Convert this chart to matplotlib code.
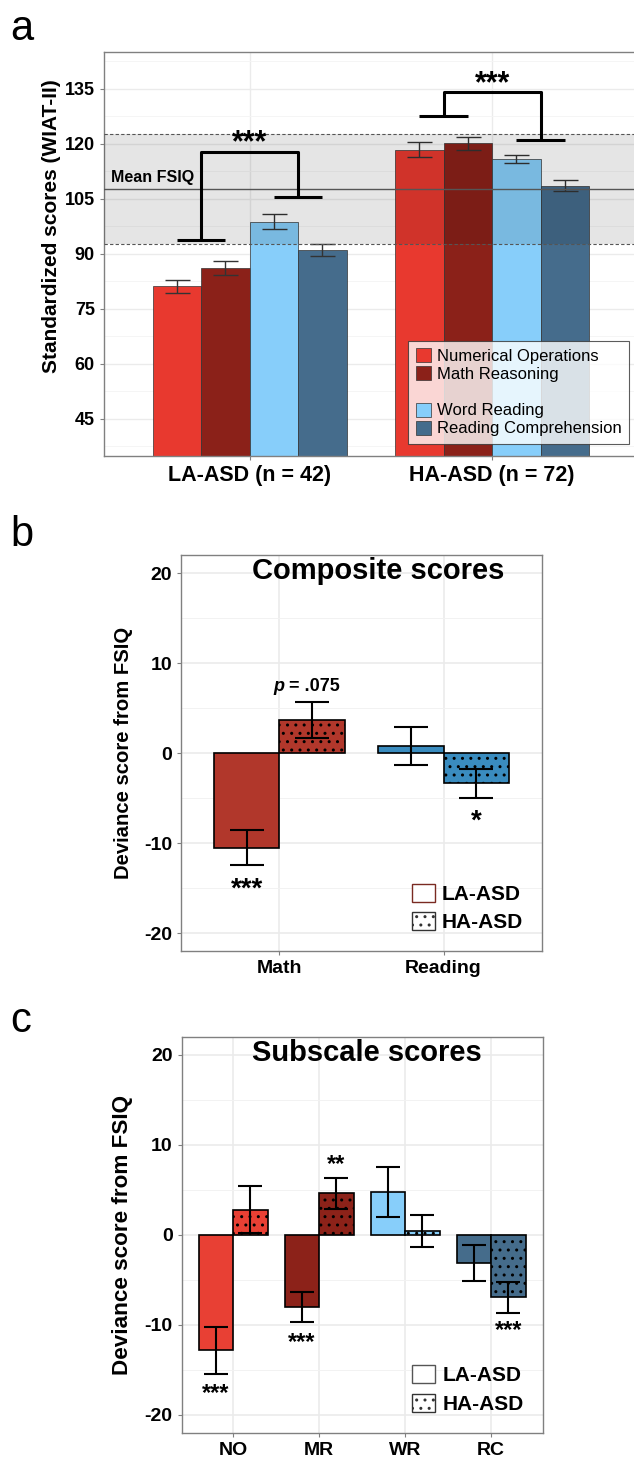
import numpy as np
import matplotlib
matplotlib.use("Agg")
import matplotlib.pyplot as plt
from matplotlib.patches import Patch

plt.rcParams['font.family'] = ['Liberation Sans', 'DejaVu Sans']
plt.rcParams['hatch.linewidth'] = 1.0
plt.rcParams['axes.unicode_minus'] = False

# ---- panel a: standardized scores ----
groups_a = ['LA-ASD (n = 42)', 'HA-ASD (n = 72)']
subtests = ['Numerical Operations', 'Math Reasoning', 'Word Reading', 'Reading Comprehension']
scores_la = [81.1, 86.1, 98.7, 90.9]
scores_ha = [118.4, 120.1, 115.8, 108.5]
err_la = [1.8, 1.8, 2.05, 1.6]
err_ha = [2.1, 1.7, 1.15, 1.45]
fsiq_mean = 107.6
fsiq_sd = 15.0
yticks_a = [45, 60, 75, 90, 105, 120, 135]

# ---- panel b: composite deviance ----
composites = ['Math', 'Reading']
comp_la = [-10.5, 0.8]
comp_ha = [3.7, -3.35]
comp_err_la = [1.95, 2.1]
comp_err_ha = [1.98, 1.6]

# ---- panel c: subscale deviance ----
subscales = ['NO', 'MR', 'WR', 'RC']
sub_la = [-12.85, -8.05, 4.75, -3.1]
sub_ha = [2.8, 4.6, 0.4, -6.95]
sub_err_la = [2.65, 1.65, 2.75, 2.0]
sub_err_ha = [2.65, 1.7, 1.8, 1.7]
yticks_bc = [-20, -10, 0, 10, 20]

colors_a = ['#E8392F', '#8B2119', '#87CEFA', '#456C8C']
colors_b = ['#B1372B', '#3A8CBF']
colors_c = ['#E84034', '#8C2219', '#87CEFA', '#456C8B']

W, H = 634, 1459
fig = plt.figure(figsize=(W / 100, H / 100), dpi=100)


def box(l, t, r, b):
    return [l / W, 1 - b / H, (r - l) / W, (b - t) / H]


def style_axes(ax):
    for s in ax.spines.values():
        s.set_color('#808080')
        s.set_linewidth(1.0)
    ax.tick_params(axis='both', colors='#808080', length=3, width=0.8)
    for lab in ax.get_xticklabels() + ax.get_yticklabels():
        lab.set_color('black')
        lab.set_fontweight('bold')
    ax.set_axisbelow(True)


# ================= panel a =================
ax = fig.add_axes(box(104, 52, 637.7, 456))
x = np.arange(1, len(groups_a) + 1)
w = 0.2
for i in range(4):
    vals = [scores_la[i], scores_ha[i]]
    errs = [err_la[i], err_ha[i]]
    pos = x + (i - 1.5) * w
    ax.bar(pos, vals, w, color=colors_a[i], edgecolor='#333333', linewidth=0.5, zorder=2)
    ax.errorbar(pos, vals, yerr=errs, fmt='none', ecolor='#333333', elinewidth=1.0,
                capsize=9, capthick=1.0, zorder=3)

ax.axhspan(fsiq_mean - fsiq_sd, fsiq_mean + fsiq_sd, color='black', alpha=0.1, lw=0, zorder=4)
for yy in (fsiq_mean - fsiq_sd, fsiq_mean + fsiq_sd):
    ax.axhline(yy, color='#555555', ls='--', lw=0.8, dashes=(3, 2), zorder=4)
ax.axhline(fsiq_mean, color='#555555', lw=1.0, zorder=4)
ax.text(0.43, fsiq_mean + 1.0, 'Mean FSIQ', fontsize=11.5, fontweight='bold',
        va='bottom', ha='left', zorder=5)


def bracket(ax, xl, xr, ytop, yl, yr, ylab, half=0.1, label='***'):
    kw = dict(color='black', lw=2.2, solid_capstyle='butt', zorder=6)
    ax.plot([xl, xl, xr, xr], [yl, ytop, ytop, yr], **kw)
    ax.plot([xl - half, xl + half], [yl, yl], **kw)
    ax.plot([xr - half, xr + half], [yr, yr], **kw)
    ax.text((xl + xr) / 2, ylab, label, ha='center', va='center',
            fontsize=22, fontweight='bold', zorder=6)


bracket(ax, 0.8, 1.2, 117.7, 93.8, 105.5, 120.0)
bracket(ax, 1.8, 2.2, 134.1, 127.5, 121.1, 136.2)

ax.set_xlim(0.4, 2.6)
ax.set_ylim(34.8, 145)
ax.set_yticks(yticks_a)
ax.set_yticks(np.arange(37.5, 145, 15), minor=True)
ax.set_xticks(x)
ax.set_xticklabels(groups_a, fontsize=15.5)
ax.tick_params(axis='y', labelsize=13)
ax.tick_params(which='minor', length=0)
ax.grid(True, which='major', color='#EBEBEB', lw=1.0, zorder=0)
ax.grid(True, which='minor', axis='y', color='#F4F4F4', lw=0.6, zorder=0)
ax.set_ylabel('Standardized scores (WIAT-II)', fontsize=15, fontweight='bold')
ax.yaxis.set_label_coords(-0.081, 0.569)
style_axes(ax)
ax.spines['right'].set_visible(False)

handles = [Patch(fc=colors_a[0], ec='#333333', lw=0.5),
           Patch(fc=colors_a[1], ec='#333333', lw=0.5),
           Patch(fc='none', ec='none'),
           Patch(fc=colors_a[2], ec='#333333', lw=0.5),
           Patch(fc=colors_a[3], ec='#333333', lw=0.5)]
labels = [subtests[0], subtests[1], '', subtests[2], subtests[3]]
leg = ax.legend(handles, labels, loc='lower left', bbox_to_anchor=(304 / 533.7, 12 / 404),
                fontsize=12, frameon=True, fancybox=False, edgecolor='#333333',
                handlelength=0.9, handleheight=0.9, handletextpad=0.4, labelspacing=0.15,
                borderpad=0.45, borderaxespad=0)
leg.get_frame().set_linewidth(0.8)
leg.set_zorder(7)

fig.text(10 / W, 1 - 40 / H, 'a', fontsize=30)


# ================= panels b and c =================
def deviance_panel(ax, cats, la, ha, ela, eha, colors, title, title_x, cap, ylab_size):
    xx = np.arange(1, len(cats) + 1)
    w = 0.4
    for j in range(len(cats)):
        ax.bar(xx[j] - w / 2, la[j], w, color=colors[j], edgecolor='black', lw=1.2, zorder=2)
        ax.bar(xx[j] + w / 2, ha[j], w, color=colors[j], edgecolor='black', lw=1.2,
               hatch='..', zorder=2)
    ax.errorbar(xx - w / 2, la, yerr=ela, fmt='none', ecolor='black', elinewidth=1.5,
                capsize=cap, capthick=1.5, zorder=3)
    ax.errorbar(xx + w / 2, ha, yerr=eha, fmt='none', ecolor='black', elinewidth=1.5,
                capsize=cap, capthick=1.5, zorder=3)
    ax.set_xlim(0.4, len(cats) + 0.6)
    ax.set_ylim(-22, 22)
    ax.set_yticks(yticks_bc)
    ax.set_yticks([-15, -5, 5, 15], minor=True)
    ax.set_xticks(xx)
    ax.set_xticklabels(cats, fontsize=14)
    ax.tick_params(axis='y', labelsize=14)
    ax.tick_params(which='minor', length=0)
    ax.grid(True, which='major', color='#EBEBEB', lw=1.2, zorder=0)
    ax.grid(True, which='minor', axis='y', color='#F2F2F2', lw=0.7, zorder=0)
    ax.set_ylabel('Deviance score from FSIQ', fontsize=ylab_size, fontweight='bold', labelpad=8)
    ax.text(title_x, 20.2, title, ha='center', va='center', fontsize=21, fontweight='bold')
    style_axes(ax)
    return xx


def dev_legend(ax, la_edge):
    handles = [Patch(fc='white', ec=la_edge, lw=1.0),
               Patch(fc='white', ec='#333333', lw=1.0, hatch='..')]
    leg = ax.legend(handles, ['LA-ASD', 'HA-ASD'], loc='lower right',
                    frameon=False, handlelength=1.1, handleheight=0.95, handletextpad=0.35,
                    labelspacing=0.4, borderaxespad=0.5,
                    prop=dict(weight='bold', size=15))
    return leg


# panel b
axb = fig.add_axes(box(181, 555, 542, 951))
xb = deviance_panel(axb, composites, comp_la, comp_ha, comp_err_la, comp_err_ha,
                    colors_b, 'Composite scores', 1.6, 12, 14.6)
axb.text(xb[0] - 0.2, -15.2, '***', ha='center', va='center', fontsize=20, fontweight='bold')
axb.annotate('p', (xb[0] + 0.2, 7.4), xytext=(-20, 0), textcoords='offset points',
             ha='right', va='center', fontsize=13, fontweight='bold', fontstyle='italic')
axb.annotate(' = .075', (xb[0] + 0.2, 7.4), xytext=(-20, 0), textcoords='offset points',
             ha='left', va='center', fontsize=13, fontweight='bold')
axb.text(xb[1] + 0.2, -7.6, '*', ha='center', va='center', fontsize=20, fontweight='bold')
dev_legend(axb, '#7A2A22')
fig.text(10 / W, 1 - 546 / H, 'b', fontsize=30)

# panel c
axc = fig.add_axes(box(181.6, 1036.7, 542.7, 1432.7))
xc = deviance_panel(axc, subscales, sub_la, sub_ha, sub_err_la, sub_err_ha,
                    colors_c, 'Subscale scores', 2.55, 8.5, 16.2)
axc.text(xc[0] - 0.2, -17.6, '***', ha='center', va='center', fontsize=17, fontweight='bold')
axc.text(xc[1] - 0.2, -12.0, '***', ha='center', va='center', fontsize=17, fontweight='bold')
axc.text(xc[1] + 0.2, 7.8, '**', ha='center', va='center', fontsize=17, fontweight='bold')
axc.text(xc[3] + 0.2, -10.7, '***', ha='center', va='center', fontsize=17, fontweight='bold')
dev_legend(axc, '#555555')
fig.text(10 / W, 1 - 1032 / H, 'c', fontsize=30)

fig.savefig('out.png', dpi=100)
